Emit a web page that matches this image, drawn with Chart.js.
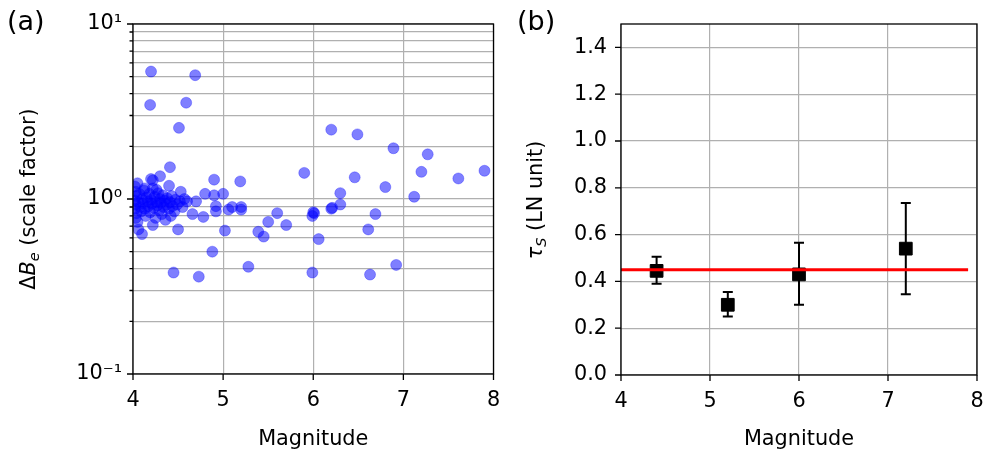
<!DOCTYPE html>
<html>
<head>
<meta charset="utf-8">
<script src="https://cdn.jsdelivr.net/npm/chart.js@4.4.1/dist/chart.umd.min.js"></script>
<style>
  html, body { margin: 0; padding: 0; background: #fff; }
  body { width: 987px; height: 453px; position: relative; overflow: hidden; font-family: "DejaVu Sans", sans-serif; }
  canvas { position: absolute; top: 0; }
  #chartA { left: 0; }
  #chartB { left: 500px; }
  .panel { position: absolute; top: 7px; font-size: 27px; line-height: 1; color: #000; }
  .ytitle { position: absolute; font-size: 20.8px; line-height: 1; white-space: nowrap; color: #000;
            transform: translate(-50%, -50%) rotate(-90deg); }
  .ytitle sub { font-size: 70%; vertical-align: -0.25em; }
</style>
</head>
<body>
<canvas id="chartA" width="500" height="453"></canvas>
<canvas id="chartB" width="487" height="453"></canvas>
<div class="panel" style="left:7px">(a)</div>
<div class="panel" style="left:517px">(b)</div>
<div class="ytitle" style="left:30px; top:199px">Δ<i>B</i><sub><i>e</i></sub> (scale factor)</div>
<div class="ytitle" style="left:537px; top:200px"><i>τ</i><sub><i>S</i></sub> (LN unit)</div>
<script>
// ---- panel (a): scale factor vs magnitude ----
const magnitudes = [
  4.20, 4.69, 4.19, 4.59, 4.51, 6.20, 6.49, 6.89, 7.27,
  4.41, 4.20, 4.22, 4.30, 4.05, 4.40, 4.53, 4.90, 5.19, 5.90, 6.46, 7.20, 7.61, 7.90,
  6.80, 6.30, 7.12, 6.30, 6.20, 6.21, 6.69, 6.61, 6.00, 6.01, 5.99, 6.06,
  5.60, 5.50, 5.70, 5.39, 5.45, 5.02, 5.20, 5.20, 5.10, 5.06, 4.92, 4.92, 5.00, 4.90, 4.80,
  4.70, 4.60, 4.66, 4.78, 4.50, 4.42, 4.10, 4.22, 4.88, 5.28, 4.45, 4.73, 5.99, 6.63, 6.92,
  4.02, 4.03, 4.04, 4.02, 4.03, 4.02, 4.04, 4.03, 4.05, 4.06, 4.07, 4.08, 4.09, 4.10,
  4.11, 4.12, 4.13, 4.14, 4.15, 4.16, 4.17, 4.18, 4.19, 4.20, 4.21, 4.22, 4.23, 4.24,
  4.25, 4.26, 4.27, 4.28, 4.29, 4.30, 4.31, 4.32, 4.33, 4.34, 4.35, 4.36, 4.37, 4.38,
  4.40, 4.41, 4.43, 4.44, 4.46, 4.47, 4.49, 4.52, 4.55, 4.57, 4.13, 4.26, 4.06
];
const scaleFactors = [
  5.35, 5.10, 3.45, 3.55, 2.55, 2.49, 2.34, 1.95, 1.80,
  1.52, 1.30, 1.28, 1.35, 1.23, 1.19, 1.10, 1.29, 1.26, 1.41, 1.33, 1.43, 1.31, 1.45,
  1.17, 1.08, 1.03, 0.93, 0.88, 0.89, 0.82, 0.67, 0.84, 0.83, 0.80, 0.59,
  0.83, 0.74, 0.71, 0.65, 0.61, 0.66, 0.87, 0.90, 0.90, 0.87, 0.91, 0.85, 1.07, 1.05, 1.07,
  0.97, 0.97, 0.82, 0.79, 0.67, 0.80, 0.63, 0.71, 0.50, 0.41, 0.38, 0.36, 0.38, 0.37, 0.42,
  1.18, 1.10, 1.04, 0.98, 0.93, 0.88, 0.83, 0.78, 0.74, 0.96, 1.07, 0.90, 0.85, 1.00,
  0.94, 1.12, 0.88, 0.80, 1.02, 0.97, 0.91, 1.07, 0.84, 0.99, 0.94, 1.15, 0.89, 1.03,
  0.78, 0.96, 0.92, 1.08, 0.86, 1.00, 0.95, 0.82, 1.05, 0.90, 0.98, 0.76, 0.93, 1.01,
  0.88, 0.96, 1.04, 0.91, 0.85, 0.99, 0.93, 0.97, 0.90, 1.00, 1.15, 1.13, 0.67
];
const logTicks = [0.1, 0.2, 0.3, 0.4, 0.5, 0.6, 0.7, 0.8, 0.9, 1, 2, 3, 4, 5, 6, 7, 8, 9, 10];
const logTickLabels = { 0.1: '10\u207B\u00B9', 1: '10\u2070', 10: '10\u00B9' };
const magTicks = [4, 5, 6, 7, 8];

// ---- panel (b): tau_S per magnitude bin ----
const binMagnitudes = [4.4, 5.2, 6.0, 7.2];
const tauS     = [0.445, 0.30, 0.43, 0.54];
const tauLow   = [0.39, 0.25, 0.30, 0.345];
const tauHigh  = [0.505, 0.355, 0.565, 0.735];
const tauMean  = 0.45;
const meanLineX = [4, 7.9];
const tauTicks = [0, 0.2, 0.4, 0.6, 0.8, 1.0, 1.2, 1.4];

const FONT = { family: 'DejaVu Sans', size: 20.8 };
const GRID = '#b0b0b0';

// matplotlib-like outward ticks + full box frame
const frameTicks = {
    id: 'frameTicks',
    afterDraw(chart) {
        const { ctx, chartArea: a, scales } = chart;
        ctx.save();
        ctx.strokeStyle = '#000';
        ctx.lineWidth = 1.3;
        ctx.beginPath();
        scales.x.ticks.forEach(t => {
            const px = scales.x.getPixelForValue(t.value);
            ctx.moveTo(px, a.bottom); ctx.lineTo(px, a.bottom + 6);
        });
        scales.y.ticks.forEach(t => {
            const py = scales.y.getPixelForValue(t.value);
            const len = scales.y.type === 'logarithmic' && !logTickLabels[t.value] ? 3.5 : 6;
            ctx.moveTo(a.left, py); ctx.lineTo(a.left - len, py);
        });
        ctx.stroke();
        ctx.strokeRect(a.left, a.top, a.right - a.left, a.bottom - a.top);
        ctx.restore();
    }
};

// vertical error bars with caps, drawn under the markers
const errorBars = {
    id: 'errorBars',
    beforeDatasetsDraw(chart) {
        const { ctx, scales: { x, y } } = chart;
        ctx.save();
        ctx.strokeStyle = '#000';
        ctx.lineWidth = 2;
        ctx.beginPath();
        binMagnitudes.forEach((m, i) => {
            const px = x.getPixelForValue(m);
            const lo = y.getPixelForValue(tauLow[i]);
            const hi = y.getPixelForValue(tauHigh[i]);
            ctx.moveTo(px, lo); ctx.lineTo(px, hi);
            ctx.moveTo(px - 5, lo); ctx.lineTo(px + 5, lo);
            ctx.moveTo(px - 5, hi); ctx.lineTo(px + 5, hi);
        });
        ctx.stroke();
        ctx.restore();
    }
};

const xScale = (height) => ({
    type: 'linear', min: 4, max: 8,
    afterBuildTicks: s => { s.ticks = magTicks.map(v => ({ value: v })); },
    // fixed height, and no extra side padding for the end labels
    afterFit: s => { s.height = height; s.paddingLeft = 0; s.paddingRight = 0; },
    grid: { color: GRID, lineWidth: 1.2, drawTicks: false },
    border: { display: false },
    ticks: { color: '#000', font: FONT, padding: 14, maxRotation: 0, autoSkip: false },
    title: { display: true, text: 'Magnitude', color: '#000', font: FONT, padding: { top: 6, bottom: 1 } },
});

new Chart(document.getElementById('chartA'), {
    type: 'scatter',
    data: {
        datasets: [{
            data: magnitudes.map((m, i) => ({ x: m, y: scaleFactors[i] })),
            backgroundColor: 'rgba(0,0,255,0.5)',
            borderColor: 'rgba(0,0,255,0.3)',
            borderWidth: 1,
            pointRadius: 5.5,
        }],
    },
    options: {
        responsive: false,
        animation: false,
        layout: { padding: { top: 24, right: 5, left: 0, bottom: 0 } },
        plugins: { legend: { display: false }, tooltip: { enabled: false } },
        scales: {
            x: xScale(79),
            y: {
                type: 'logarithmic', min: 0.1, max: 10,
                afterBuildTicks: s => { s.ticks = logTicks.map(v => ({ value: v })); },
                afterFit: s => { s.width = 133; s.paddingTop = 0; s.paddingBottom = 0; },
                grid: { color: GRID, lineWidth: 1.2, drawTicks: false },
                border: { display: false },
                ticks: { color: '#000', font: FONT, padding: 11, autoSkip: false,
                         callback: v => logTickLabels[v] || '' },
            },
        },
    },
    plugins: [frameTicks],
});

new Chart(document.getElementById('chartB'), {
    type: 'scatter',
    data: {
        datasets: [{
            type: 'line',
            data: meanLineX.map(m => ({ x: m, y: tauMean })),
            borderColor: '#ff0000',
            borderWidth: 3,
            pointRadius: 0,
            order: 0,
        }, {
            data: binMagnitudes.map((m, i) => ({ x: m, y: tauS[i] })),
            pointStyle: 'rect',
            pointRadius: 9,
            backgroundColor: '#000',
            borderColor: '#000',
            order: 1,
        }],
    },
    options: {
        responsive: false,
        animation: false,
        layout: { padding: { top: 24, right: 5, left: 0, bottom: 0 } },
        plugins: { legend: { display: false }, tooltip: { enabled: false } },
        scales: {
            x: xScale(78),
            y: {
                type: 'linear', min: 0, max: 1.5,
                afterBuildTicks: s => { s.ticks = tauTicks.map(v => ({ value: v })); },
                afterFit: s => { s.width = 121; s.paddingTop = 0; s.paddingBottom = 0; },
                grid: { color: GRID, lineWidth: 1.2, drawTicks: false },
                border: { display: false },
                ticks: { color: '#000', font: FONT, padding: 14, autoSkip: false,
                         callback: v => v.toFixed(1) },
            },
        },
    },
    plugins: [errorBars, frameTicks],
});
</script>
</body>
</html>
